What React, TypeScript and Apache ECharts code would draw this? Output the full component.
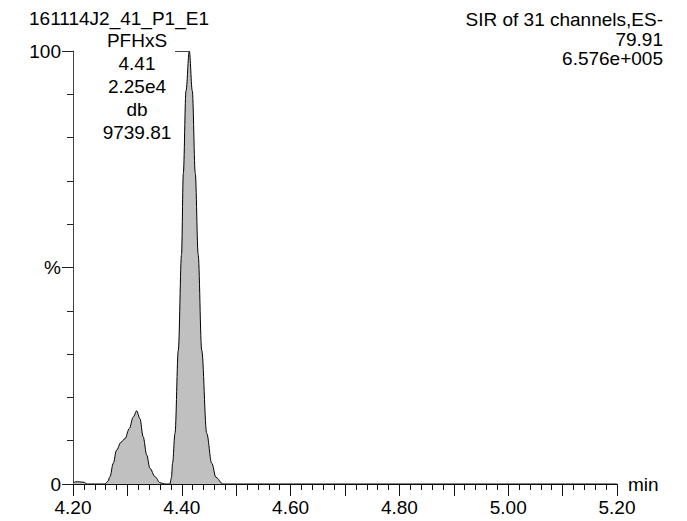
import React, { useEffect, useRef } from "react";
import * as echarts from "echarts";

// Retention time (min) and relative intensity (%)
const times = [
  4.200, 4.205, 4.212, 4.220, 4.226, 4.240, 4.2588, 4.264, 4.268, 4.274, 4.280,
  4.288, 4.2956, 4.3035, 4.3109, 4.317, 4.323, 4.329, 4.3355, 4.3415, 4.3507,
  4.360, 4.369, 4.378, 4.381, 4.383, 4.3875, 4.3936, 4.3995, 4.4028, 4.4077,
  4.4138, 4.4193, 4.4248, 4.4301, 4.4366, 4.4458, 4.455, 4.463, 4.4757, 4.490,
  5.200,
];
const intensity = [
  0.2, 0.5, 0.5, 0.4, 0, 0, 0, 0.6, 1.7, 4.8, 7.8, 9.6, 10.5, 12.8, 15.5, 16.9,
  15.1, 10.9, 6.7, 3.6, 1.7, 0.3, 0, 0, 1.5, 4.8, 11.7, 30.9, 53, 71.7, 90.8,
  100, 90.8, 71.7, 53, 30.9, 11.7, 4.8, 1.5, 0, 0, 0,
];

const sampleTitle = "161114J2_41_P1_E1";
const peakLabel = ["PFHxS", "4.41", "2.25e4", "db", "9739.81"];
const traceInfo = ["SIR of 31 channels,ES-", "79.91", "6.576e+005"];
const peakTime = 4.4138;
const peakValue = 100;
const leaderStart = 4.3875;
const xMin = 4.2;
const xMax = 5.2;
const yLabels: Record<number, string> = { 0: "0", 50: "%", 100: "100" };

const FONT = "'Liberation Sans', Arial, Helvetica, sans-serif";

export default function App() {
  const ref = useRef<HTMLDivElement>(null);
  useEffect(() => {
    if (!ref.current) return;
    const chart = echarts.init(ref.current, undefined, { renderer: "svg" });
    const data = times.map((t, i) => [t, intensity[i]]);
    chart.setOption({
      animation: false,
      backgroundColor: "#ffffff",
      textStyle: { fontFamily: FONT },
      grid: { left: 73, right: 70, top: 51, bottom: 37 },
      xAxis: {
        type: "value",
        min: xMin,
        max: xMax,
        interval: 0.1,
        name: "min",
        nameLocation: "end",
        nameGap: 11,
        nameTextStyle: { fontSize: 19, color: "#000", fontFamily: FONT },
        axisLine: { show: true, lineStyle: { color: "#111", width: 1 } },
        axisTick: { show: true, length: 12, lineStyle: { color: "#111" } },
        minorTick: { show: true, splitNumber: 5, length: 6, lineStyle: { color: "#111" } },
        splitLine: { show: false },
        axisLabel: {
          fontSize: 19,
          color: "#000",
          fontFamily: FONT,
          margin: 14,
          formatter: (v: number) => (Math.round(v * 10) % 2 === 0 ? v.toFixed(2) : ""),
        },
      },
      yAxis: {
        type: "value",
        min: 0,
        max: 100,
        interval: 50,
        axisLine: { show: true, lineStyle: { color: "#444", width: 1 } },
        axisTick: { show: true, length: 11, lineStyle: { color: "#222" } },
        minorTick: { show: true, splitNumber: 5, length: 6, lineStyle: { color: "#222" } },
        splitLine: { show: false },
        axisLabel: {
          fontSize: 19,
          color: "#000",
          fontFamily: FONT,
          margin: 12,
          formatter: (v: number) => yLabels[Math.round(v)] ?? "",
        },
      },
      series: [
        {
          type: "line",
          data,
          symbol: "none",
          smooth: 0.35,
          smoothMonotone: "x",
          lineStyle: { color: "#000", width: 1 },
          areaStyle: { color: "#c0c0c0", opacity: 1 },
          markLine: {
            silent: true,
            symbol: "none",
            label: { show: false },
            lineStyle: { color: "#444", width: 1, type: "solid" },
            data: [[{ coord: [leaderStart, peakValue] }, { coord: [peakTime, peakValue] }]],
          },
        },
      ],
      graphic: [
        {
          type: "text",
          x: 119,
          y: 18,
          style: {
            text: sampleTitle,
            font: `19px ${FONT}`,
            fill: "#000",
            textAlign: "center",
            textVerticalAlign: "middle",
          },
        },
        {
          type: "text",
          x: 137,
          y: 86,
          style: {
            text: peakLabel.join("\n"),
            font: `19px ${FONT}`,
            lineHeight: 23,
            fill: "#000",
            textAlign: "center",
            textVerticalAlign: "middle",
          },
        },
        {
          type: "text",
          x: 663,
          y: 39,
          style: {
            text: traceInfo.join("\n"),
            font: `19px ${FONT}`,
            lineHeight: 19.5,
            fill: "#000",
            textAlign: "right",
            textVerticalAlign: "middle",
          },
        },
      ],
    });
    return () => chart.dispose();
  }, []);
  return (
    <div
      ref={ref}
      style={{ position: "fixed", left: 0, top: 0, width: 687, height: 521, background: "#fff" }}
    />
  );
}
